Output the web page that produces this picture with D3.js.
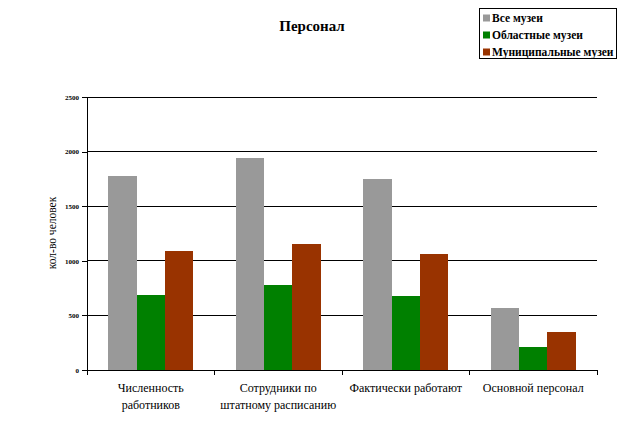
<!DOCTYPE html>
<html><head><meta charset="utf-8">
<script src="https://cdn.jsdelivr.net/npm/d3@7"></script>
<style>body{margin:0;background:#fff}svg{display:block}</style>
</head><body>
<script>
const categories = [["Численность","работников"],["Сотрудники по","штатному расписанию"],["Фактически работают"],["Основной персонал"]];
const seriesNames = ["Все музеи","Областные музеи","Муниципальные музеи"];
const allMuseums = [1780, 1945, 1745, 566];
const regional = [685, 776, 676, 210];
const municipal = [1087, 1151, 1059, 347];
const colors = ["#999999","#008000","#993300"];
const yTicks = [0,500,1000,1500,2000,2500];
const title = "Персонал";
const yLabel = "кол-во человек";

const series = [allMuseums, regional, municipal];
const W=623,H=423;
const FONT='"Liberation Serif"';
const svg=d3.select("body").append("svg").attr("width",W).attr("height",H);
const m={l:87,r:597,t:97,b:370};
const x0=d3.scaleBand().domain(d3.range(categories.length)).range([m.l,m.r]).padding(0);
const bw=x0.bandwidth();
const x1=d3.scaleBand().domain(d3.range(series.length)).range([bw/6,bw*5/6]).padding(0);
const y=d3.scaleLinear().domain([0,2500]).range([m.b,m.t]);

svg.append("g").selectAll("line").data(yTicks.filter(d=>d>0)).join("line")
 .attr("x1",m.l).attr("x2",m.r).attr("y1",d=>y(d)).attr("y2",d=>y(d))
 .attr("stroke","#000").attr("stroke-width",1).attr("shape-rendering","crispEdges");

series.forEach((s,si)=>{
 svg.append("g").selectAll("rect").data(s).join("rect")
  .attr("x",(d,i)=>x0(i)+x1(si)).attr("width",x1.bandwidth())
  .attr("y",d=>y(d)).attr("height",d=>m.b-y(d))
  .attr("fill",colors[si]).attr("shape-rendering","crispEdges");
});

const ya=svg.append("g").attr("transform",`translate(${m.l},0)`)
 .call(d3.axisLeft(y).tickValues(yTicks).tickSize(5).tickPadding(3).tickFormat(d3.format("d")));
ya.selectAll("path,line").attr("stroke","#000").attr("shape-rendering","crispEdges");
ya.select(".domain").attr("d",`M0,${m.t}V${m.b}`);
ya.selectAll("text").attr("font-size",7).attr("font-weight","bold").style("font-family",FONT).attr("fill","#000");

const xa=svg.append("g").attr("transform",`translate(0,${m.b})`);
xa.append("line").attr("x1",m.l).attr("x2",m.r).attr("stroke","#000").attr("shape-rendering","crispEdges");
const tickPos=d3.range(categories.length+1).map(i=>i<categories.length?x0(i):m.r);
xa.selectAll(".tk").data(tickPos).join("line").attr("class","tk")
 .attr("x1",d=>d).attr("x2",d=>d).attr("y1",0).attr("y2",5).attr("stroke","#000").attr("shape-rendering","crispEdges");
categories.forEach((lines,i)=>{
 const t=xa.append("text").attr("x",x0(i)+bw/2).attr("y",22).attr("text-anchor","middle")
  .attr("font-size",12).style("font-family",FONT).attr("fill","#000");
 lines.forEach((ln,j)=>t.append("tspan").attr("x",x0(i)+bw/2).attr("dy",j?17:0).text(ln));
});

svg.append("text").attr("transform",`translate(56,233) rotate(-90)`)
 .attr("text-anchor","middle").attr("font-size",11.5).style("font-family",FONT).attr("fill","#000").text(yLabel);

svg.append("text").attr("x",312).attr("y",31).attr("text-anchor","middle")
 .attr("font-size",15).attr("font-weight","bold").style("font-family",FONT).attr("fill","#000").text(title);

const lg=svg.append("g");
lg.append("rect").attr("x",479.5).attr("y",8.5).attr("width",137).attr("height",50)
 .attr("fill","#fff").attr("stroke","#000").attr("stroke-width",1);
seriesNames.forEach((n,i)=>{
 const cy=18+i*17;
 lg.append("rect").attr("x",483).attr("y",cy-3.5).attr("width",7).attr("height",7).attr("fill",colors[i]);
 lg.append("text").attr("x",492).attr("y",cy+4).attr("font-size",11.5).attr("font-weight","bold").style("font-family",FONT).attr("fill","#000").text(n);
});
</script>
</body></html>
